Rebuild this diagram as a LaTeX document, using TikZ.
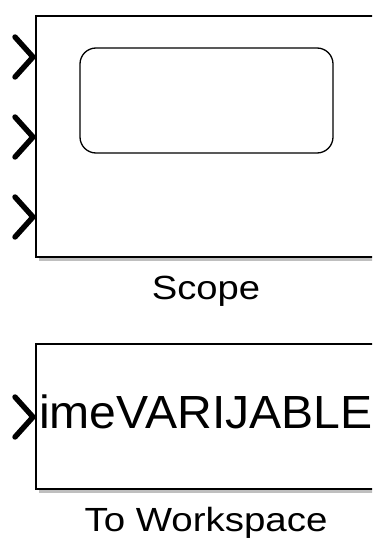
\documentclass[tikz,border=0pt]{standalone}
\usepackage{fontspec}
\setmainfont{Liberation Sans}
\tikzset{
  blockbox/.style={draw=black, line width=2pt, fill=white},
  shadowline/.style={line width=3pt, draw=black!25},
  port/.style={line width=5.4pt, line cap=round, line join=miter},
  lbl/.style={anchor=base, inner sep=0pt, text=black}
}
\begin{document}
\begin{tikzpicture}[x=1pt,y=-1pt]
\useasboundingbox (0,0) rectangle (372,543);
\clip (0,0) rectangle (372,543);
\fill[white] (0,0) rectangle (372,543);
% Scope block
\draw[shadowline] (39,259.5) -- (390,259.5);
\draw[blockbox] (36,16) rectangle (400,257);
\draw[line width=1.3pt, rounded corners=16pt] (80,48) rectangle (333,153);
\draw[port] (15,37) -- (33,57) -- (15,77);
\draw[port] (15,117) -- (33,137) -- (15,157);
\draw[port] (15,197) -- (33,217) -- (15,237);
\node[lbl, font=\fontsize{33.5}{36}\selectfont] (scopelbl) at (206,299) {\scalebox{1.14}[1]{Scope}};
% To Workspace block
\draw[shadowline] (39,491.5) -- (390,491.5);
\draw[blockbox] (36,344) rectangle (400,489);
\draw[port] (15,397) -- (33,417) -- (15,437);
\node[lbl, anchor=base west, font=\fontsize{46.5}{50}\selectfont] (varname) at (39,428) {\scalebox{1.035}[1]{imeVARIJABLE}};
\node[lbl, font=\fontsize{33.5}{36}\selectfont] (wslbl) at (206,531) {\scalebox{1.148}[1]{To Workspace}};
\end{tikzpicture}
\end{document}
